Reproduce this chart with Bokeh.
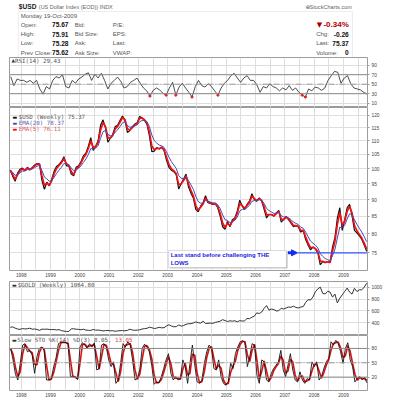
import numpy as np
import pandas as pd
from bokeh.plotting import figure
from bokeh.layouts import column
from bokeh.models import (FixedTicker, Label, BoxAnnotation, Arrow, NormalHead,
                          Span, Range1d, PrintfTickFormatter, Grid)
from bokeh.embed import file_html
from bokeh.resources import INLINE

# ---------------- data ----------------
# monthly closes, Aug 1997 .. Oct 2009
usd_close = [
    99.5, 97.5, 95.8, 98.5, 99.8,
    100.2, 99.3, 100.5, 99.6, 100.4, 101.3, 101.8, 101.6, 96.0, 93.2, 95.5, 94.3,
    96.5, 99.2, 100.8, 101.5, 102.5, 104.2, 101.0, 101.0, 98.2, 97.6, 100.5, 101.0,
    102.5, 104.5, 105.5, 108.0, 111.2, 106.5, 108.0, 110.0, 116.0, 118.2, 115.0, 109.5,
    111.0, 112.5, 115.5, 116.0, 118.0, 119.8, 118.0, 113.2, 114.0, 115.5, 116.5, 117.0,
    119.6, 119.0, 118.0, 116.5, 112.0, 106.0, 106.2, 107.5, 107.0, 107.7, 106.5, 103.0,
    100.5, 99.5, 99.0, 98.0, 93.3, 95.0, 96.5, 98.2, 94.0, 92.0, 90.5, 87.0,
    86.3, 88.0, 89.0, 91.2, 89.0, 88.8, 88.5, 88.8, 87.5, 85.0, 82.0, 81.3,
    83.5, 82.0, 84.0, 84.5, 86.5, 89.8, 88.0, 87.0, 88.5, 89.5, 91.8, 90.0,
    89.5, 90.5, 89.5, 87.0, 84.5, 85.5, 85.5, 85.0, 86.0, 86.7, 83.3, 84.0,
    85.0, 84.0, 83.0, 82.0, 82.3, 82.0, 80.5, 81.0, 78.5, 77.0, 75.8, 76.5,
    76.0, 75.0, 72.0, 72.8, 72.5, 72.8, 72.5, 76.5, 79.0, 84.5, 87.5, 81.0,
    84.0, 87.5, 88.5, 85.2, 81.0, 80.3, 79.5, 78.5, 77.0, 75.4,
]
gold_close = [
    324, 332, 311, 296, 290,
    304, 297, 301, 310, 293, 296, 288, 273, 294, 292, 294, 288,
    287, 287, 280, 286, 268, 261, 255, 255, 299, 300, 292, 290,
    283, 293, 278, 274, 273, 288, 277, 278, 273, 264, 269, 272,
    266, 267, 258, 264, 268, 270, 266, 273, 293, 279, 275, 277,
    282, 296, 302, 308, 326, 318, 304, 312, 324, 316, 318, 347,
    368, 347, 334, 336, 364, 346, 354, 375, 385, 386, 398, 416,
    402, 396, 427, 388, 393, 395, 391, 408, 416, 429, 453, 438,
    422, 434, 428, 435, 417, 437, 430, 433, 473, 470, 495, 513,
    568, 556, 582, 644, 690, 613, 632, 623, 599, 604, 646, 632,
    650, 665, 662, 679, 659, 650, 665, 673, 743, 789, 783, 834,
    923, 971, 1000, 895, 886, 930, 918, 833, 884, 735, 815, 870,
    928, 985, 917, 883, 980, 926, 955, 955, 1000, 1064.8,
]
rsi14 = [
    66, 47, 61, 58, 58, 54, 58, 52, 58, 40, 29, 45, 40, 58, 66, 63, 70, 45, 42, 58,
    52, 61, 65, 71, 74, 58, 71, 63, 73, 58, 40, 52, 58, 65, 56, 42, 45, 54, 58, 63,
    52, 42, 36, 25, 37, 42, 38, 31, 27, 42, 54, 27, 44, 52, 42, 33, 23, 45, 58, 47,
    44, 51, 45, 36, 27, 42, 52, 58, 68, 73, 63, 54, 63, 68, 58, 58, 49, 33, 45, 42,
    51, 45, 42, 36, 42, 38, 47, 37, 42, 33, 27, 23, 40, 36, 44, 42, 37, 42, 58, 68,
    77, 75, 52, 63, 68, 51, 42, 40, 38, 33, 29.4,
]
sto_k = [
    80, 56, 26, 14, 49, 87, 90, 73, 76, 66, 28, 63, 80, 83, 76, 14, 14, 17, 42, 61,
    90, 93, 93, 92, 90, 21, 22, 19, 15, 83, 92, 87, 80, 90, 83, 92, 35, 38, 87, 90,
    83, 56, 42, 52, 7, 14, 49, 90, 83, 94, 87, 56, 14, 17, 35, 80, 89, 83, 73, 45,
    5, 10, 8, 21, 38, 56, 69, 28, 14, 21, 14, 17, 56, 42, 7, 49, 87, 45, 10, 7,
    14, 49, 73, 87, 80, 38, 35, 56, 21, 7, 3, 10, 49, 38, 69, 83, 94, 96, 92, 42,
    63, 90, 87, 24, 7, 56, 52, 14, 10, 28, 38, 45, 52, 76, 35, 21, 45, 69, 35, 14,
    10, 31, 14, 7, 17, 14, 52, 42, 52, 14, 21, 38, 52, 59, 94, 87, 97, 90, 73, 49,
    80, 92, 56, 42, 10, 17, 21, 14, 19, 8.05,
]
years = list(range(1998, 2010))
usd_ticks = [75, 80, 85, 90, 95, 100, 105, 110, 115, 120]
rsi_ticks = [10, 30, 50, 70, 90]
gold_ticks = [400, 600, 800, 1000]
sto_ticks = [20, 50, 80]
first_month = 1997 + 7.5 / 12      # mid Aug 1997
first_week = 1997.64
last_week = 2009.80                # 19-Oct-2009
support_level = 75.0
support_from = 2007.45

info_labels = ["Open:", "High:", "Low:", "Prev Close:"]
info_values = ["75.67", "75.91", "75.28", "75.62"]
bid_labels = ["Bid:", "Bid Size:", "Ask:", "Ask Size:"]
ratio_labels = ["P/E:", "EPS:", "Last:", "VWAP:"]
right_labels = ["Chg:", "Last:", "Volume:"]
right_values = ["-0.26", "75.37", "0"]

# ---------------- derived series ----------------
t_month = first_month + np.arange(len(usd_close)) / 12.0
usd = pd.Series(usd_close, dtype=float)
ema20 = usd.ewm(alpha=0.35, adjust=False).mean()
ema5 = usd.ewm(alpha=0.72, adjust=False).mean()
t_rsi = np.linspace(first_week, last_week, len(rsi14))
t_sto = np.linspace(first_week, last_week, len(sto_k))
sto_d = pd.Series(sto_k, dtype=float).rolling(2, min_periods=1).mean()
rsi_arr = np.array(rsi14, dtype=float)
low_mask = rsi_arr < 28

X0, X1 = 1997.60, 2009.82
half_years = [y + h for y in range(1997, 2010) for h in (0.0, 0.5) if X0 < y + h < X1]

SANS = "Liberation Sans"
MONO = "DejaVu Sans Mono"
GRID = "#dedede"
OUTL = "#9c9c9c"
AXC = "#444444"
AXF = "4.8px"
LEFT = 9


def panel(fh, yr, yticks, log=False, xaxis=0):
    p = figure(frame_width=358, frame_height=fh,
               x_range=Range1d(X0, X1), y_range=Range1d(*yr),
               y_axis_type="log" if log else "linear",
               x_axis_location="below" if xaxis else None,
               y_axis_location="right",
               output_backend="svg", toolbar_location=None,
               min_border_left=LEFT, min_border_right=2,
               min_border_top=0, min_border_bottom=xaxis,
               background_fill_color="white", border_fill_color="white",
               outline_line_color=OUTL)
    p.grid.visible = False
    p.add_layout(Grid(dimension=0, ticker=FixedTicker(ticks=half_years),
                      grid_line_color=GRID, grid_line_width=1))
    p.add_layout(Grid(dimension=1, ticker=FixedTicker(ticks=yticks),
                      grid_line_color=GRID, grid_line_width=1))
    ya = p.yaxis[0]
    ya.ticker = FixedTicker(ticks=yticks, minor_ticks=[])
    ya.formatter = PrintfTickFormatter(format="%d")
    ya.axis_line_color = None
    ya.major_tick_in = 0
    ya.major_tick_out = 2
    ya.major_tick_line_color = OUTL
    ya.minor_tick_line_color = None
    ya.major_label_standoff = 2
    ya.major_label_text_font = SANS
    ya.major_label_text_font_size = AXF
    ya.major_label_text_color = AXC
    if xaxis:
        xa = p.xaxis[0]
        xa.ticker = FixedTicker(ticks=years, minor_ticks=[])
        xa.formatter = PrintfTickFormatter(format="%d")
        xa.axis_line_color = None
        xa.major_tick_in = 0
        xa.major_tick_out = 0
        xa.minor_tick_line_color = None
        xa.major_label_standoff = 2
        xa.major_label_text_font = SANS
        xa.major_label_text_font_size = AXF
        xa.major_label_text_color = AXC
    return p


def tag(p, fh, x, dy, text, color="#555555", size="5.8px", font=MONO, bold=False):
    p.add_layout(Label(x=x, y=fh - dy, x_units="screen", y_units="screen", text=text,
                       text_font=font, text_font_size=size, text_color=color,
                       text_font_style="bold" if bold else "normal",
                       text_baseline="middle", text_align="left"))


# ---------------- header ----------------
HH = 57
HW = 390
hdr = figure(width=HW, height=HH, x_range=Range1d(0, HW), y_range=Range1d(HH, 0),
             output_backend="svg", toolbar_location=None, min_border=0,
             x_axis_location=None, y_axis_location=None, outline_line_color=None,
             background_fill_color="white", border_fill_color="white")
hdr.grid.visible = False
hdr.add_layout(BoxAnnotation(left=9.5, right=368.5, top=11, bottom=HH, fill_color="white",
                             fill_alpha=1, line_color="#c4c4c4", line_width=1))


def htxt(x, y, s, size="6px", color="#555555", bold=False, align="left", font=SANS):
    hdr.add_layout(Label(x=x, y=y, text=s, text_font=font, text_font_size=size,
                         text_color=color, text_font_style="bold" if bold else "normal",
                         text_align=align, text_baseline="middle"))


htxt(10, 6, "$USD", size="6.6px", color="#222222", bold=True)
htxt(31.5, 6.2, "(US Dollar Index (EOD)) INDX", size="5.5px", color="#666666")
htxt(368, 6.2, "StockCharts.com", size="5.6px", color="#666666", align="right")
htxt(318, 6.2, "\u2295", size="5.6px", color="#666666", font="DejaVu Sans")
rows = [24.3, 33.5, 42.7, 52.0]
htxt(12, 15.7, "Monday  19-Oct-2009")
for i in range(4):
    htxt(12, rows[i], info_labels[i])
    htxt(45.7, rows[i], info_values[i], size="6.6px", color="#111111", bold=True)
    htxt(70, rows[i], bid_labels[i])
    htxt(111, rows[i], ratio_labels[i])
htxt(330, rows[0], "\u25bc", size="7px", color="#a00000", font="DejaVu Sans")
htxt(364.5, rows[0], "-0.34%", size="8px", color="#b00000", bold=True, align="right")
for i in range(3):
    htxt(329.5, rows[i + 1], right_labels[i])
    htxt(364.5, rows[i + 1], right_values[i], size="6.6px", color="#111111", bold=True,
         align="right")

# ---------------- RSI ----------------
FR = 50
prsi = panel(FR, (0.95, 106.2), rsi_ticks)
for lvl, dash, col in ((70, "solid", "#8a8a8a"), (30, "solid", "#8a8a8a"),
                       (50, "6 2 1 2", "#9a9a9a")):
    prsi.add_layout(Span(location=lvl, dimension="width", line_color=col,
                         line_width=1, line_dash=dash))
prsi.line(t_rsi, rsi14, line_color="#222222", line_width=0.8)
prsi.scatter(t_rsi[low_mask], rsi_arr[low_mask], size=2.2, color="#e02020")
tag(prsi, FR, 2, 3.2, "\u25b2", color="#333333", size="4.5px", font="DejaVu Sans")
tag(prsi, FR, 5.5, 3.2, "RSI(14) 29.43")

# ---------------- USD ----------------
FU = 163
pusd = panel(FU, (70.6, 123.3), usd_ticks, log=True, xaxis=11)
pusd.line(t_month, usd_close, line_color="#111111", line_width=1.2)
pusd.line(t_month, ema5, line_color="#ee1111", line_width=1.7)
pusd.line(t_month, ema20, line_color="#4848b8", line_width=1)
pusd.line([support_from, last_week], [support_level, support_level],
          line_color="#3355ff", line_width=1.2)
pusd.add_layout(Arrow(x_start=2007.10, y_start=support_level, x_end=2007.43,
                      y_end=support_level, line_color="#1030f0", line_width=3,
                      end=NormalHead(size=6, fill_color="#1030f0",
                                     line_color="#1030f0")))
pusd.add_layout(BoxAnnotation(left=2003.08, right=2007.10, top=75.45, bottom=71.1,
                              fill_color="#cfcfcf", fill_alpha=1, line_color=None))
pusd.add_layout(BoxAnnotation(left=2003.03, right=2007.05, top=75.6, bottom=71.3,
                              fill_color="white", fill_alpha=1, line_color="#8c8c8c",
                              line_width=1))
pusd.add_layout(Label(x=2003.10, y=74.45, text="Last stand before challenging THE",
                      text_font=SANS, text_font_size="6px",
                      text_font_style="bold", text_color="#2424e0",
                      text_baseline="middle"))
pusd.add_layout(Label(x=2003.10, y=72.45, text="LOWS",
                      text_font=SANS, text_font_size="6px",
                      text_font_style="bold", text_color="#2424e0",
                      text_baseline="middle"))
tag(pusd, FU, 3, 9.2, "\u25ac", color="#111111", size="5px", font="DejaVu Sans")
tag(pusd, FU, 9.3, 9.2, "$USD (Weekly) 75.37")
tag(pusd, FU, 3, 15.4, "\u25ac", color="#4848b8", size="5px", font="DejaVu Sans")
tag(pusd, FU, 9.3, 15.4, "EMA(20) 78.37", color="#5a5aa8")
tag(pusd, FU, 3, 21.4, "\u25ac", color="#ee1111", size="5px", font="DejaVu Sans")
tag(pusd, FU, 9.3, 21.4, "EMA(5) 76.11", color="#e05a5a")

# ---------------- GOLD ----------------
FG = 54
pg = panel(FG, (187, 1095), gold_ticks)
pg.line(t_month, gold_close, line_color="#333333", line_width=1)
tag(pg, FG, 2.5, 3.4, "\u25ac", color="#333333", size="5px", font="DejaVu Sans")
tag(pg, FG, 8.3, 3.4, "$GOLD (Weekly) 1064.80")

# ---------------- Slow STO ----------------
FS = 55
ps = panel(FS, (-8, 107.1), sto_ticks, xaxis=9)
for lvl, dash, col in ((80, "solid", "#8a8a8a"), (20, "solid", "#8a8a8a"),
                       (50, "6 2 1 2", "#9a9a9a")):
    ps.add_layout(Span(location=lvl, dimension="width", line_color=col,
                       line_width=1, line_dash=dash))
ps.line(t_sto, sto_d, line_color="#dd1111", line_width=1.6)
ps.line(t_sto, sto_k, line_color="#111111", line_width=0.9)
tag(ps, FS, 2.5, 4.2, "\u25ac", color="#333333", size="5px", font="DejaVu Sans")
tag(ps, FS, 7.7, 4.2, "Slow STO %K(14) %D(3) 8.05, ")
tag(ps, FS, 7.7 + 28 * 3.49, 4.2, "13.05", color="#e04040")

layout = column(hdr, prsi, pusd, pg, ps, spacing=0)
open("out.html", "w").write(file_html(layout, INLINE))
